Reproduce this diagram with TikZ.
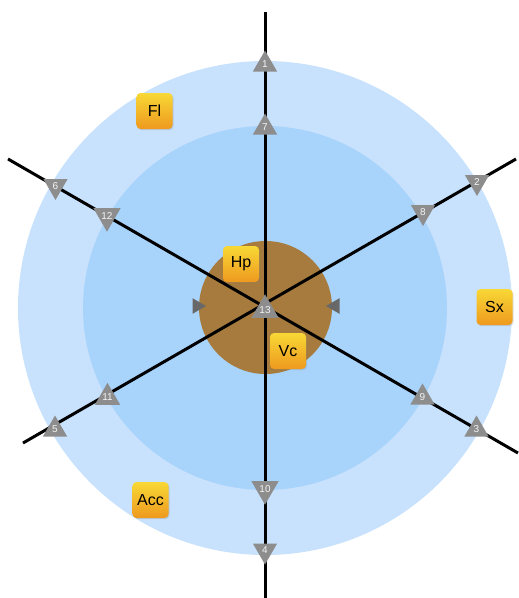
\documentclass[tikz,border=0pt]{standalone}
\usepackage{fontspec}
\setmainfont{Liberation Sans}
\usetikzlibrary{shapes.geometric,shadows}
\definecolor{outerblue}{RGB}{200,226,253}
\definecolor{innerblue}{RGB}{168,211,251}
\definecolor{cork}{RGB}{166,123,61}
\definecolor{markgray}{RGB}{141,141,141}
\definecolor{sidegray}{RGB}{104,104,104}
\definecolor{tagtop}{RGB}{248,216,54}
\definecolor{tagbot}{RGB}{238,153,30}
\tikzset{
	spoke/.style={line width=3pt},
	tri/.style={regular polygon, regular polygon sides=3, minimum size=28pt, inner sep=0pt, fill=markgray, text=white!92!gray, font=\fontsize{10}{10}\selectfont},
	triup/.style={tri, yshift=-3.5pt},
	tridown/.style={tri, shape border rotate=180, yshift=3.5pt},
	sidetri/.style={regular polygon, regular polygon sides=3, minimum size=18pt, inner sep=0pt, fill=sidegray},
	tag/.style={rounded corners=4pt, minimum size=36pt, inner sep=0pt, top color=tagtop, bottom color=tagbot, font=\fontsize{16}{16}\selectfont, drop shadow={opacity=0.25, shadow xshift=1pt, shadow yshift=-1.2pt}}
}
\begin{document}
\begin{tikzpicture}[x=1pt,y=-1pt]
	\useasboundingbox (0,0) rectangle (519,598);
	\filldraw[fill=outerblue, draw=none] (265,308) circle (247pt);
	\filldraw[fill=innerblue, draw=none] (265,308) circle (182pt);
	\filldraw[fill=cork, draw=none] (265.5,307.5) circle (66.5pt);

	\coordinate (n) at (265,12);
	\coordinate (s) at (265,600);
	\coordinate (nw) at (8,159);
	\coordinate (se) at (518,453);
	\coordinate (ne) at (516,159);
	\coordinate (sw) at (23,443);
	\draw[spoke] (n) -- (s);
	\draw[spoke] (nw) -- (se);
	\draw[spoke] (sw) -- (ne);

	\node[sidetri, shape border rotate=-90] (left) at (197,306) {};
	\node[sidetri, shape border rotate=90] (right) at (335,306) {};

	\node[triup] (t1) at (265,61) {1};
	\node[tridown] (t2) at (477,185.5) {2};
	\node[triup] (t3) at (476.5,426) {3};
	\node[tridown] (t4) at (265,554) {4};
	\node[triup] (t5) at (55,426) {5};
	\node[tridown] (t6) at (55.5,189.5) {6};
	\node[triup] (t7) at (265,124) {7};
	\node[tridown] (t8) at (423,215.5) {8};
	\node[triup] (t9) at (422.5,394) {9};
	\node[tridown] (t10) at (265,492.5) {10};
	\node[triup] (t11) at (107.5,394) {11};
	\node[tridown] (t12) at (107,219.5) {12};
	\node[triup] (t13) at (265,306.5) {13};

	\node[tag] (fl) at (154.5,111) {Fl};
	\node[tag] (hp) at (241,264) {Hp};
	\node[tag] (vc) at (288,351) {Vc};
	\node[tag] (sx) at (494.5,307) {Sx};
	\node[tag] (acc) at (150.5,500) {Acc};
\end{tikzpicture}
\end{document}
